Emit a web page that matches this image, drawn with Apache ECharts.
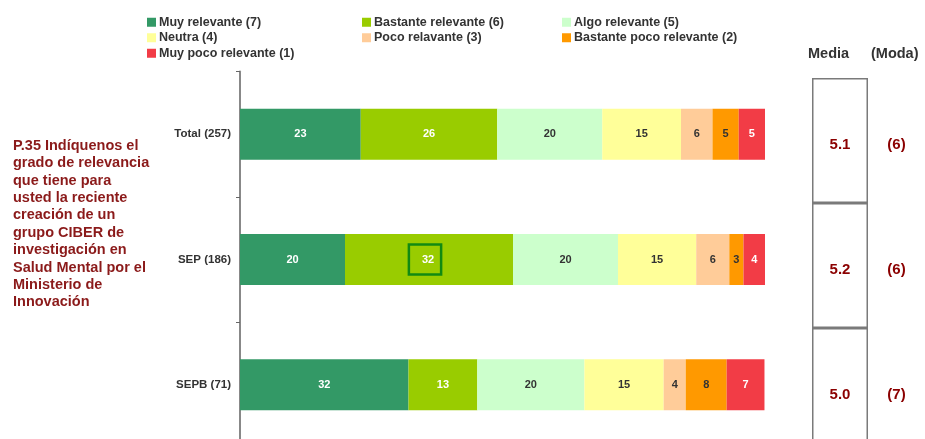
<!DOCTYPE html>
<html>
<head>
<meta charset="utf-8">
<script src="https://cdn.jsdelivr.net/npm/echarts@6/dist/echarts.min.js"></script>
<style>
  html, body { margin: 0; padding: 0; background: #ffffff; }
  #chart { width: 925px; height: 439px; }
</style>
</head>
<body>
<div id="chart"></div>
<script>
// ---------- DATA ----------
const categories = ['Total (257)', 'SEP (186)', 'SEPB (71)'];
const seriesNames = [
  'Muy relevante (7)', 'Bastante relevante (6)', 'Algo relevante (5)',
  'Neutra (4)', 'Poco relavante (3)', 'Bastante poco relevante (2)', 'Muy poco relevante (1)'
];
const muyRelevante      = [23, 20, 32.1];
const bastanteRelevante = [26, 32, 13.1];
const algoRelevante     = [20, 20, 20.4];
const neutra            = [15, 14.9, 15.1];
const pocoRelavante     = [6, 6.3, 4.2];
const bastantePoco      = [5, 2.7, 7.8];
const muyPoco           = [5, 4.2, 7.2];
const media = [5.1, 5.2, 5.0];
const moda  = [6, 6, 7];
const questionText = 'P.35 Indíquenos el\ngrado de relevancia\nque tiene para\nusted la reciente\ncreación de un\ngrupo CIBER de\ninvestigación en\nSalud Mental por el\nMinisterio de\nInnovación';

// ---------- STYLE ----------
const FONT = '"Liberation Sans", Arial, sans-serif';
const colors = ['#339966', '#99CC00', '#CCFFCC', '#FFFF99', '#FFCC99', '#FF9900', '#F23C46'];
const labelColors = ['#ffffff', '#ffffff', '#333333', '#333333', '#333333', '#333333', '#ffffff'];
const highlight = { series: 1, index: 1 };
const allValues = [muyRelevante, bastanteRelevante, algoRelevante, neutra, pocoRelavante, bastantePoco, muyPoco];

const barSeries = allValues.map((vals, si) => ({
  name: seriesNames[si],
  type: 'bar',
  stack: 'total',
  xAxisIndex: 0, yAxisIndex: 0,
  barWidth: 51,
  itemStyle: { color: colors[si] },
  label: {
    show: true, position: 'inside',
    color: labelColors[si], fontFamily: FONT, fontWeight: 'bold', fontSize: 11,
    formatter: p => String(Math.round(p.value))
  },
  data: vals.map((v, i) => {
    if (si === highlight.series && i === highlight.index) {
      return { value: v, label: { borderColor: '#128a12', borderWidth: 2.5, padding: [10, 7, 9, 13], offset: [-4, 0] } };
    }
    return v;
  })
}));

const chart = echarts.init(document.getElementById('chart'), null, { renderer: 'canvas' });
const legendCommon = {
  orient: 'vertical', icon: 'rect', itemWidth: 9, itemHeight: 9, itemGap: 1, padding: 0,
  textStyle: { fontFamily: FONT, fontWeight: 'bold', fontSize: 12.5, color: '#333', lineHeight: 14.5, padding: [0, 0, 0, -2] },
  selectedMode: false
};
chart.setOption({
  animation: false,
  backgroundColor: '#ffffff',
  title: [
    { text: questionText, left: 13, top: 137, padding: 0,
      textStyle: { fontFamily: FONT, fontWeight: 'bold', fontSize: 14.5, lineHeight: 17.4, color: '#8B1A1A' } },
    { text: 'Media', left: 808, top: 46, padding: 0,
      textStyle: { fontFamily: FONT, fontWeight: 'bold', fontSize: 14.5, color: '#333' } },
    { text: '(Moda)', left: 871, top: 46, padding: 0,
      textStyle: { fontFamily: FONT, fontWeight: 'bold', fontSize: 14.5, color: '#333' } }
  ],
  legend: [
    Object.assign({ left: 147, top: 15, data: [seriesNames[0], seriesNames[3], seriesNames[6]] }, legendCommon),
    Object.assign({ left: 362, top: 15, data: [seriesNames[1], seriesNames[4]] }, legendCommon),
    Object.assign({ left: 562, top: 15, data: [seriesNames[2], seriesNames[5]] }, legendCommon)
  ],
  grid: [
    { left: 240, top: 71.5, width: 525, height: 376, outerBoundsMode: 'none' },
    { left: 812, top: 78, width: 56, height: 375, outerBoundsMode: 'none' },
    { left: 868, top: 78, width: 57, height: 375, outerBoundsMode: 'none' }
  ],
  xAxis: [
    { gridIndex: 0, type: 'value', min: 0, max: 100, show: false },
    { gridIndex: 1, type: 'value', min: 0, max: 1, show: false },
    { gridIndex: 2, type: 'value', min: 0, max: 1, show: false }
  ],
  yAxis: [
    { gridIndex: 0, type: 'category', inverse: true, data: categories,
      axisLine: { show: true, lineStyle: { color: '#888888', width: 2 } },
      axisTick: { show: true, length: 4, lineStyle: { color: '#666666', width: 1 } },
      axisLabel: { margin: 9, fontFamily: FONT, fontWeight: 'bold', fontSize: 11.5, color: '#333' },
      splitLine: { show: false } },
    { gridIndex: 1, type: 'category', inverse: true, data: categories, show: false },
    { gridIndex: 2, type: 'category', inverse: true, data: categories, show: false }
  ],
  series: barSeries.concat([
    { type: 'bar', xAxisIndex: 1, yAxisIndex: 1, barWidth: '100%', silent: true,
      itemStyle: { color: '#ffffff', borderColor: '#7a7a7a', borderWidth: 1.5 },
      label: { show: true, position: 'inside', offset: [0, 4], color: '#8B0000', fontFamily: FONT, fontWeight: 'bold', fontSize: 15,
        formatter: p => media[p.dataIndex].toFixed(1) },
      data: media.map(() => 1) },
    { type: 'bar', xAxisIndex: 2, yAxisIndex: 2, barWidth: '100%', silent: true,
      itemStyle: { color: 'rgba(0,0,0,0)' },
      label: { show: true, position: 'inside', offset: [0, 4], color: '#8B0000', fontFamily: FONT, fontWeight: 'bold', fontSize: 15,
        formatter: p => '(' + moda[p.dataIndex] + ')' },
      data: moda.map(() => 1) }
  ])
});
</script>
</body>
</html>
